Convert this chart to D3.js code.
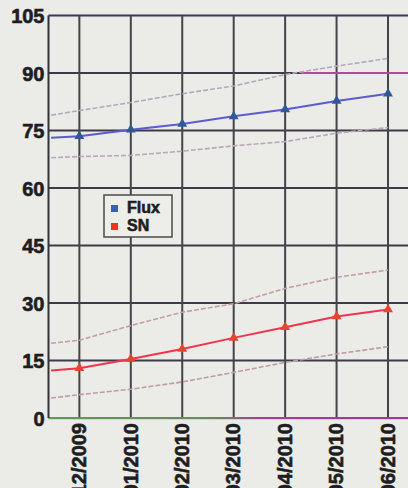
<!DOCTYPE html>
<html><head><meta charset="utf-8">
<script src="https://cdn.jsdelivr.net/npm/d3@7"></script>
<style>
html,body{margin:0;padding:0;background:#ebebe7;overflow:hidden;}
text{font-family:"Liberation Sans",Arial,sans-serif;font-weight:bold;fill:#1e1e22;stroke:#1e1e22;stroke-width:0.6px;}
</style></head>
<body><svg id="c" width="408" height="488"></svg>
<script>
// ---- data ----
const categories = ["12/2009","01/2010","02/2010","03/2010","04/2010","05/2010","06/2010"];
const yTicks = [0,15,30,45,60,75,90,105];
const fluxValues = [73.5,75.2,76.7,78.7,80.5,82.7,84.6];
const snValues   = [13.0,15.4,18.0,20.9,23.7,26.5,28.3];
// value of each line where it meets the left axis
const fluxEdge = 73.1, snEdge = 12.4;
// dashed bands: [left edge, then one per category]
const fluxUpper = [79.0,80.2,82.3,84.6,86.6,89.6,91.8,93.8];
const fluxLower = [67.9,68.2,68.5,69.6,71.0,72.1,74.3,75.8];
const snUpper   = [19.5,20.3,24.1,27.6,29.8,33.8,36.7,38.6];
const snLower   = [5.2,6.1,7.5,9.4,11.9,14.5,16.7,18.6];
const legendItems = [{name:"Flux",color:"#3a5fb0"},{name:"SN",color:"#ee3322"}];

// ---- layout ----
const svg = d3.select("#c");
const pLeft = 48.5, pTop = 15.5, pBottom = 418;
const edgeIdx = -0.55;
const x = d3.scaleLinear().domain([-0.6, 6.75]).range([pLeft, 426.6]);
const y = d3.scaleLinear().domain([0,105]).range([pBottom, pTop]);

// gridlines
const g = svg.append("g");
g.selectAll("line.h").data(yTicks.filter(d=>d>0)).join("line")
  .attr("x1", pLeft).attr("x2", 408).attr("y1", d=>y(d)).attr("y2", d=>y(d))
  .attr("stroke", d=>d===105?"#3b3560":"#3e3b46").attr("stroke-width", 2);
g.selectAll("line.v").data(categories).join("line")
  .attr("x1", (d,i)=>x(i)).attr("x2", (d,i)=>x(i)).attr("y1", pTop).attr("y2", pBottom)
  .attr("stroke", "#45434a").attr("stroke-width", 2);
// magenta tint segment on 90 line
g.append("line").attr("x1", x(4.3)).attr("x2", 408).attr("y1", y(90)).attr("y2", y(90))
  .attr("stroke", "#b04a9a").attr("stroke-width", 2);

// axes lines
const defs = svg.append("defs");
const grad = defs.append("linearGradient").attr("id","bx").attr("x1","0").attr("x2","1");
grad.append("stop").attr("offset","0").attr("stop-color","#5d9a55");
grad.append("stop").attr("offset","0.45").attr("stop-color","#6a8a5a");
grad.append("stop").attr("offset","0.6").attr("stop-color","#a0409a");
grad.append("stop").attr("offset","1").attr("stop-color","#9a3a9a");
svg.append("rect").attr("x", pLeft).attr("y", pBottom-1).attr("width", 408-pLeft).attr("height", 2.2).attr("fill","url(#bx)");
svg.append("line").attr("x1", pLeft).attr("x2", pLeft).attr("y1", pTop).attr("y2", pBottom)
  .attr("stroke", "#343038").attr("stroke-width", 2);

// y labels via axis
const yAxis = svg.append("g").attr("transform", `translate(${pLeft-4},1)`)
  .call(d3.axisLeft(y).tickValues(yTicks).tickSize(0).tickPadding(0));
yAxis.select(".domain").remove();
yAxis.selectAll("text").style("font-size","20px").attr("fill","#1e1e22");

// x labels
const xAxis = svg.append("g").attr("transform", `translate(-1,${pBottom+5})`)
  .call(d3.axisBottom(x).tickValues(categories.map((d,i)=>i)).tickFormat(i=>categories[i]).tickSize(0));
xAxis.select(".domain").remove();
xAxis.selectAll("text").style("font-size","20px").attr("fill","#1e1e22")
  .attr("text-anchor","end").attr("transform","rotate(-90)")
  .attr("x", 0).attr("y", 0).attr("dy","0.36em");

// dashed bands
const bandLine = d3.line().x((d,i)=> i===0 ? x(edgeIdx) : x(i-1)).y(d=>y(d));
[[fluxUpper,"#b7a9bd"],[fluxLower,"#b9a9b9"],[snUpper,"#c49ea8"],[snLower,"#c29aa8"]].forEach(([arr,c])=>{
  svg.append("path").attr("d", bandLine(arr)).attr("fill","none")
    .attr("stroke", c).attr("stroke-width", 1.6).attr("stroke-dasharray","5,2");
});

// main series
const seriesLine = d3.line().x(d=>x(d.i)).y(d=>y(d.v));
function series(vals, edge, lineColor, markColor){
  const pts = [{i:edgeIdx, v:edge}].concat(vals.map((v,i)=>({i, v})));
  svg.append("path").attr("d", seriesLine(pts)).attr("fill","none")
    .attr("stroke", lineColor).attr("stroke-width", 2);
  svg.append("g").selectAll("path").data(vals).join("path")
    .attr("d", d3.symbol(d3.symbolTriangle, 42)())
    .attr("transform", (d,i)=>`translate(${x(i)},${y(d)})`)
    .attr("fill", markColor);
}
series(fluxValues, fluxEdge, "#5a5ccf", "#2f5896");
series(snValues, snEdge, "#f0344e", "#e4452c");

// legend
const lg = svg.append("g").attr("transform","translate(104,195)");
lg.append("rect").attr("width",68).attr("height",42).attr("fill","#ededea")
  .attr("stroke","#4a4a46").attr("stroke-width",1.5);
const li = lg.selectAll("g").data(legendItems).join("g")
  .attr("transform",(d,i)=>`translate(0,${i*18})`);
li.append("rect").attr("x",7).attr("y",10).attr("width",7).attr("height",7).attr("fill",d=>d.color);
li.append("text").attr("x",23).attr("y",18).style("font-size","16px").text(d=>d.name);
</script>
</body></html>
